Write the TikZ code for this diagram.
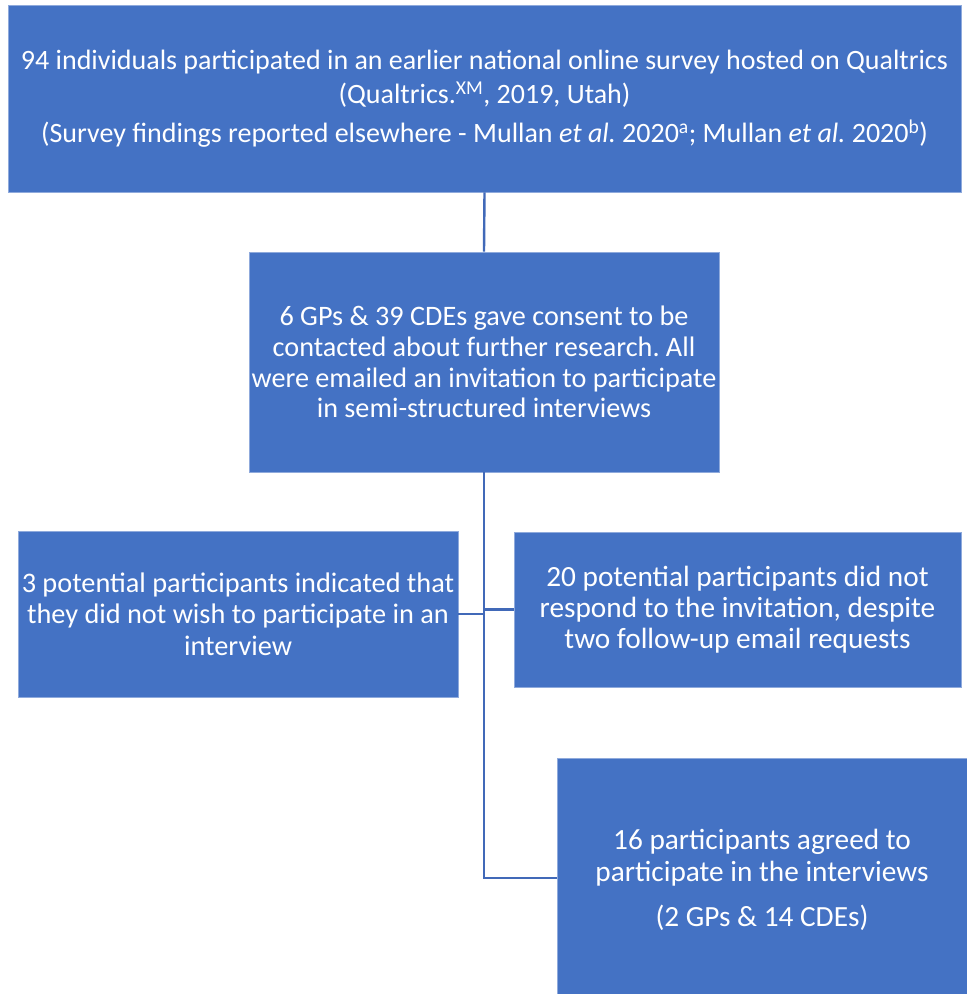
\documentclass[tikz,border=0pt]{standalone}
\usepackage{fontspec}
\setmainfont{Carlito}
\frenchspacing
\definecolor{boxblue}{HTML}{4472C4}
\definecolor{boxedge}{HTML}{8FAADC}
\definecolor{linkblue}{HTML}{4169B8}
\begin{document}
\begin{tikzpicture}[x=1pt,y=-1pt,
  box/.style={rectangle,fill=boxblue,draw=boxedge,line width=0.8pt,text=white,align=center,inner sep=0pt},
  link/.style={draw=linkblue,line width=2.4pt}]
\useasboundingbox (0,0) rectangle (967,994);
\node[box,minimum width=953,minimum height=187,font=\fontsize{28}{34}\selectfont] (top) at (484.5,98.5)
 {94 individuals participated in an earlier national online survey hosted on Qualtrics\\
 (Qualtrics.\textsuperscript{XM}, 2019, Utah)\\[5pt]
 (Survey findings reported elsewhere - Mullan \textit{et al.} 2020\textsuperscript{a}; Mullan \textit{et al.} 2020\textsuperscript{b})};
\node[box,minimum width=470,minimum height=220,font=\fontsize{28.2}{30.7}\selectfont] (mid) at (484,362)
 {6 GPs \& 39 CDEs gave consent to be\\contacted about further research. All\\were emailed an invitation to participate\\in semi-structured interviews};
\node[box,minimum width=440,minimum height=166,font=\fontsize{28.3}{31.5}\selectfont] (left) at (238,614)
 {3 potential participants indicated that\\they did not wish to participate in an\\interview};
\node[box,minimum width=447,minimum height=155,font=\fontsize{29.3}{31}\selectfont] (right) at (737.5,609.5)
 {20 potential participants did not\\respond to the invitation, despite\\two follow-up email requests};
\node[box,minimum width=410,minimum height=244,font=\fontsize{29.3}{32}\selectfont] (bot) at (762,880)
 {16 participants agreed to\\participate in the interviews\\[13pt](2 GPs \& 14 CDEs)};
\coordinate (elbow) at (mid.south |- 0,878);
\draw[link] (top.south) -- (mid.north);
\draw[link] (mid.south) -- (elbow) -- (elbow -| bot.west);
\draw[link] (left.east) -- (left.east -| mid.south);
\draw[link] (right.west) -- (right.west -| mid.south);
\end{tikzpicture}
\end{document}
